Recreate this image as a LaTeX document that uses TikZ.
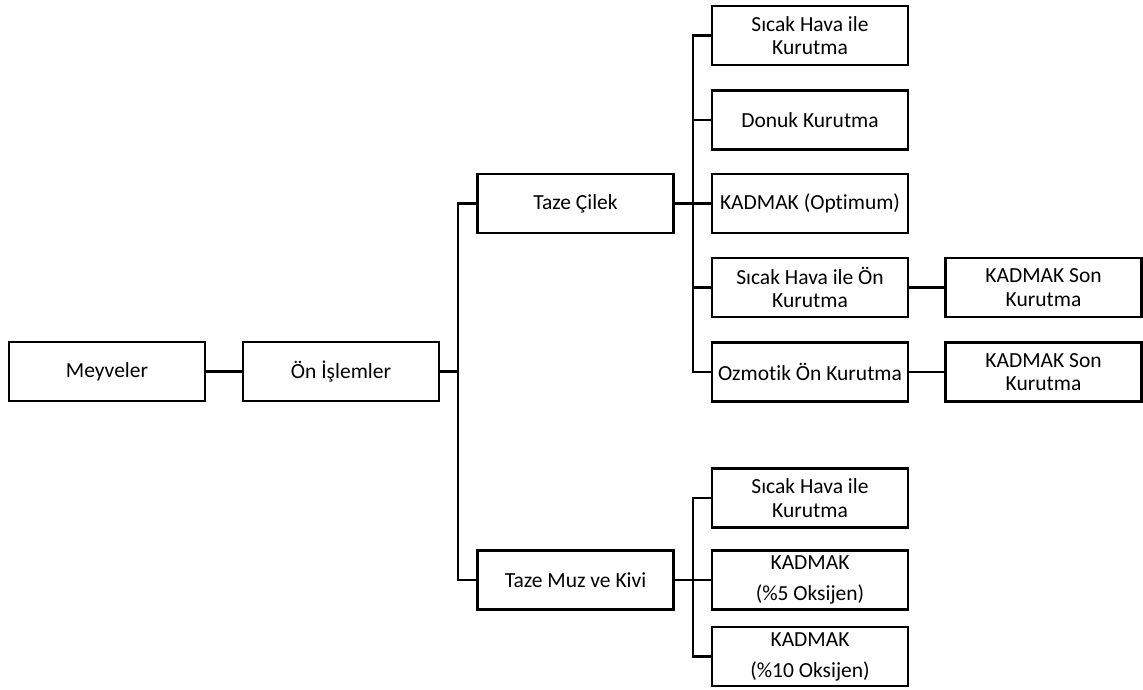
\documentclass[tikz,border=0pt]{standalone}
\usepackage{fontspec}
\setmainfont{Carlito}[Ligatures=NoCommon]
\begin{document}
\begin{tikzpicture}[x=1pt,y=-1pt,
  box/.style={draw, line width=2.2pt, rectangle, minimum width=196pt, minimum height=59pt, inner sep=0pt, align=center, font=\fontsize{21.5}{23.5}\selectfont},
  boxw/.style={box, font=\fontsize{21.5}{31}\selectfont},
  conn/.style={line width=2.2pt}]
\useasboundingbox (0,0) rectangle (1143,690);
\node[box] (mey) at (107,371.5) {Meyveler};
\node[box] (on) at (341,371.5) {Ön İşlemler};
\node[box] (cilek) at (575.5,203.5) {Taze Çilek};
\node[box] (muz) at (575.5,580) {Taze Muz ve Kivi};
\node[box] (s1) at (810,35.5) {Sıcak Hava ile\\Kurutma};
\node[box] (s2) at (810,120) {Donuk Kurutma};
\node[box] (s3) at (810,203.5) {KADMAK (Optimum)};
\node[box] (s4) at (810,287.5) {Sıcak Hava ile Ön\\Kurutma};
\node[box] (s5) at (810,372) {Ozmotik Ön Kurutma};
\node[box] (k4) at (1043.5,287.5) {KADMAK Son\\Kurutma};
\node[box] (k5) at (1043.5,372) {KADMAK Son\\Kurutma};
\node[box] (m1) at (810,498) {Sıcak Hava ile\\Kurutma};
\node[boxw] (m2) at (810,580) {KADMAK\\(\%5 Oksijen)};
\node[boxw] (m3) at (810,656.5) {KADMAK\\(\%10 Oksijen)};
\coordinate (c0) at (458,0);
\coordinate (c1) at (693,0);
\draw[conn] (mey.east) -- (on.west);
\draw[conn] (on.east) -- (on.east -| c0);
\draw[conn] (cilek.west) -- (cilek.west -| c0) -- (muz.west -| c0) -- (muz.west);
\draw[conn] (cilek.east) -- (s3.west);
\draw[conn] (s1.west) -- (s1.west -| c1) -- (s5.west -| c1) -- (s5.west);
\draw[conn] (s2.west) -- (s2.west -| c1);
\draw[conn] (s4.west) -- (s4.west -| c1);
\draw[conn] (s4.east) -- (k4.west);
\draw[conn] (s5.east) -- (k5.west);
\draw[conn] (muz.east) -- (m2.west);
\draw[conn] (m1.west) -- (m1.west -| c1) -- (m3.west -| c1) -- (m3.west);
\end{tikzpicture}
\end{document}
